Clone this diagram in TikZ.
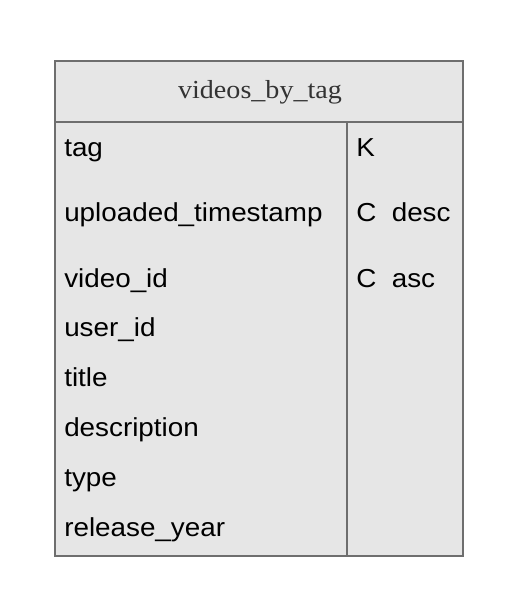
\documentclass[tikz,border=0pt]{standalone}
\usepackage{fontspec}
\setmainfont[FakeStretch=1.07]{Liberation Sans}
\newfontfamily\headfont[FakeStretch=1.08]{Liberation Serif}
\definecolor{cellfill}{HTML}{E6E6E6}
\definecolor{cellline}{HTML}{6E6E6E}
\definecolor{headtext}{HTML}{333333}
\begin{document}
\begin{tikzpicture}[x=0.75pt,y=-0.75pt,
  tablebox/.style={draw=cellline,fill=cellfill,line width=2.2pt},
  sepline/.style={draw=cellline,line width=2.2pt},
  fieldtext/.style={anchor=base west,inner sep=0pt,font=\fontsize{19.5pt}{22pt}\selectfont,text=black},
  headtitle/.style={anchor=base,inner sep=0pt,font=\headfont\fontsize{19.5pt}{22pt}\selectfont,text=headtext}]
\useasboundingbox (0,0) rectangle (516,614);
\path[tablebox] (55,61) rectangle (463,556);
\coordinate (hl) at (55,122);
\coordinate (hr) at (463,122);
\coordinate (vt) at (347,122);
\coordinate (vb) at (347,556);
\draw[sepline] (hl) -- (hr);
\draw[sepline] (vt) -- (vb);
\node[headtitle] (title) at (260,98) {videos\_by\_tag};
\node[fieldtext] (f1) at (64,156) {tag};
\node[fieldtext] (f2) at (64,221) {uploaded\_timestamp};
\node[fieldtext] (f3) at (64,287) {video\_id};
\node[fieldtext] (f4) at (64,336) {user\_id};
\node[fieldtext] (f5) at (64,386) {title};
\node[fieldtext] (f6) at (64,436) {description};
\node[fieldtext] (f7) at (64,486) {type};
\node[fieldtext] (f8) at (64,536) {release\_year};
\node[fieldtext] (k1) at (356,156) {K};
\node[fieldtext] (k2) at (356,221) {C\ \ desc};
\node[fieldtext] (k3) at (356,287) {C\ \ asc};
\end{tikzpicture}
\end{document}
